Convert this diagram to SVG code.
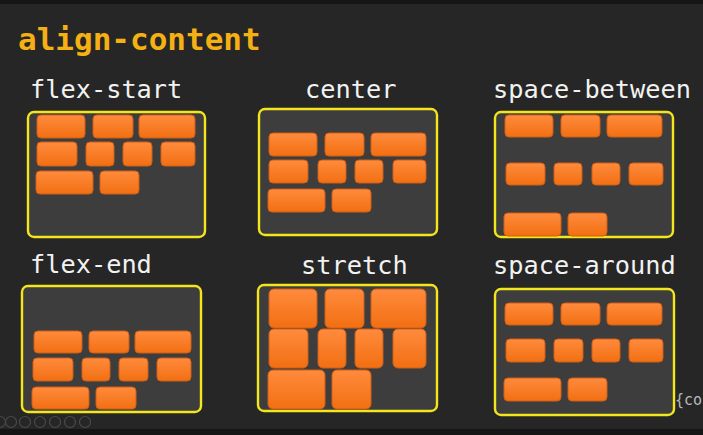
<svg xmlns="http://www.w3.org/2000/svg" width="703" height="435" viewBox="0 0 703 435">
<defs>
<linearGradient id="og" x1="0" y1="0" x2="0" y2="1">
<stop offset="0" stop-color="#ff8b3d"/>
<stop offset="1" stop-color="#f26f12"/>
</linearGradient>
</defs>
<style>
.bg{fill:#262626}
.box{fill:#3d3d3d;stroke:#f3e61c;stroke-width:2.4}
.item{fill:url(#og);stroke:#cf5e16;stroke-width:1}
.title{font-family:"DejaVu Sans Mono","Liberation Mono",monospace;font-weight:bold;font-size:31px;fill:#f5b114}
.lbl{font-family:"DejaVu Sans Mono","Liberation Mono",monospace;font-size:25.3px;fill:#f2f2f2}
.code{font-family:"DejaVu Sans Mono","Liberation Mono",monospace;font-size:15px;fill:#b8b8b8}
.tb{fill:none;stroke:#4a4a4a;stroke-width:1.2}
</style>
<rect class="bg" x="0" y="0" width="703" height="435"/>
<rect x="0" y="0" width="703" height="4" fill="#161616"/>
<rect x="0" y="429" width="703" height="6" fill="#151515"/>
<text class="title" x="18" y="50">align-content</text>

<g id="flex-start">
<text class="lbl" x="30" y="98">flex-start</text>
<rect class="box" x="28" y="112" width="177" height="125" rx="6"/>
<rect class="item" x="37" y="115" width="48" height="23" rx="4"/>
<rect class="item" x="93" y="115" width="40" height="23" rx="4"/>
<rect class="item" x="139" y="115" width="56" height="23" rx="4"/>
<rect class="item" x="37" y="142" width="40" height="24" rx="4"/>
<rect class="item" x="86" y="142" width="28" height="24" rx="4"/>
<rect class="item" x="123" y="142" width="29" height="24" rx="4"/>
<rect class="item" x="161" y="142" width="34" height="24" rx="4"/>
<rect class="item" x="36" y="171" width="57" height="23" rx="4"/>
<rect class="item" x="100" y="171" width="39" height="23" rx="4"/>
</g>

<g id="center">
<text class="lbl" x="305" y="98">center</text>
<rect class="box" x="259" y="109" width="178" height="126" rx="6"/>
<rect class="item" x="269" y="133" width="48" height="23" rx="4"/>
<rect class="item" x="325" y="133" width="39" height="23" rx="4"/>
<rect class="item" x="371" y="133" width="55" height="23" rx="4"/>
<rect class="item" x="269" y="160" width="39" height="23" rx="4"/>
<rect class="item" x="318" y="160" width="28" height="23" rx="4"/>
<rect class="item" x="355" y="160" width="28" height="23" rx="4"/>
<rect class="item" x="393" y="160" width="33" height="23" rx="4"/>
<rect class="item" x="268" y="189" width="57" height="23" rx="4"/>
<rect class="item" x="332" y="189" width="39" height="23" rx="4"/>
</g>

<g id="space-between">
<text class="lbl" x="493" y="98">space-between</text>
<rect class="box" x="495" y="112" width="178" height="125" rx="6"/>
<rect class="item" x="505" y="115" width="48" height="22" rx="4"/>
<rect class="item" x="561" y="115" width="39" height="22" rx="4"/>
<rect class="item" x="607" y="115" width="55" height="22" rx="4"/>
<rect class="item" x="506" y="163" width="39" height="22" rx="4"/>
<rect class="item" x="554" y="163" width="28" height="22" rx="4"/>
<rect class="item" x="592" y="163" width="28" height="22" rx="4"/>
<rect class="item" x="629" y="163" width="34" height="22" rx="4"/>
<rect class="item" x="504" y="213" width="57" height="23" rx="4"/>
<rect class="item" x="568" y="213" width="39" height="23" rx="4"/>
</g>

<g id="flex-end">
<text class="lbl" x="30" y="273">flex-end</text>
<rect class="box" x="22" y="286" width="179" height="126" rx="6"/>
<rect class="item" x="34" y="331" width="48" height="22" rx="4"/>
<rect class="item" x="89" y="331" width="40" height="22" rx="4"/>
<rect class="item" x="135" y="331" width="56" height="22" rx="4"/>
<rect class="item" x="33" y="358" width="40" height="23" rx="4"/>
<rect class="item" x="82" y="358" width="28" height="23" rx="4"/>
<rect class="item" x="119" y="358" width="29" height="23" rx="4"/>
<rect class="item" x="157" y="358" width="34" height="23" rx="4"/>
<rect class="item" x="32" y="387" width="57" height="22" rx="4"/>
<rect class="item" x="96" y="387" width="40" height="22" rx="4"/>
</g>

<g id="stretch">
<text class="lbl" x="301" y="274">stretch</text>
<rect class="box" x="258" y="285" width="179" height="126" rx="6"/>
<rect class="item" x="269" y="289" width="48" height="39" rx="5"/>
<rect class="item" x="325" y="289" width="39" height="39" rx="5"/>
<rect class="item" x="371" y="289" width="55" height="39" rx="5"/>
<rect class="item" x="269" y="329" width="39" height="39" rx="5"/>
<rect class="item" x="318" y="329" width="28" height="39" rx="5"/>
<rect class="item" x="355" y="329" width="28" height="39" rx="5"/>
<rect class="item" x="393" y="329" width="33" height="39" rx="5"/>
<rect class="item" x="268" y="370" width="57" height="39" rx="5"/>
<rect class="item" x="332" y="370" width="39" height="39" rx="5"/>
</g>

<g id="space-around">
<text class="lbl" x="493" y="274">space-around</text>
<rect class="box" x="495" y="289" width="179" height="126" rx="6"/>
<rect class="item" x="505" y="303" width="48" height="22" rx="4"/>
<rect class="item" x="561" y="303" width="39" height="22" rx="4"/>
<rect class="item" x="607" y="303" width="55" height="22" rx="4"/>
<rect class="item" x="506" y="339" width="39" height="23" rx="4"/>
<rect class="item" x="554" y="339" width="29" height="23" rx="4"/>
<rect class="item" x="592" y="339" width="28" height="23" rx="4"/>
<rect class="item" x="629" y="339" width="34" height="23" rx="4"/>
<rect class="item" x="504" y="378" width="57" height="23" rx="4"/>
<rect class="item" x="568" y="378" width="39" height="23" rx="4"/>
</g>

<text class="code" x="675" y="405">{co</text>

<g id="toolbar">
<circle class="tb" cx="0" cy="422" r="5.5"/>
<circle class="tb" cx="11" cy="422" r="5.5"/>
<circle class="tb" cx="25" cy="422" r="5.5"/>
<circle class="tb" cx="40" cy="422" r="5.5"/>
<circle class="tb" cx="55" cy="422" r="5.5"/>
<circle class="tb" cx="70" cy="422" r="5.5"/>
<circle class="tb" cx="85" cy="422" r="5.5"/>
</g>
</svg>
